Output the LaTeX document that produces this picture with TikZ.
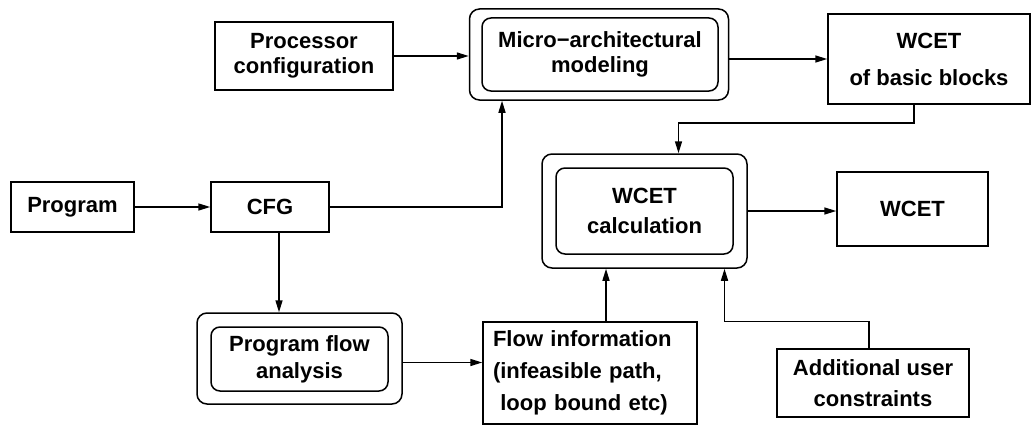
\documentclass[tikz,border=0pt]{standalone}
\usepackage{fontspec}
\setmainfont{Liberation Sans}
\usetikzlibrary{arrows.meta}

\begin{document}
\begin{tikzpicture}[x=1pt,y=-1pt,
  box/.style={shape=rectangle,draw,line width=1.5pt,inner sep=0pt,align=center,
    font=\fontsize{22}{25}\selectfont\bfseries},
  outer/.style={shape=rectangle,draw,line width=1.5pt,rounded corners=10pt,inner sep=0pt},
  inner/.style={box,rounded corners=9pt},
  >={Triangle[length=12pt,width=7pt]}]
\useasboundingbox (0,0) rectangle (1032,428);
\node(prog) at (72.5,207)[box,minimum width=123pt,minimum height=50pt]  {Program};
\node(cfg) at (270,207)[box,minimum width=118pt,minimum height=50pt]    {CFG};
\node(proc) at (304,56)[box,minimum width=178pt,minimum height=68pt]    {Processor\\configuration};
\node(micro) at (599,54.5)[outer,minimum width=259pt,minimum height=91pt] {};
\node(microin) at (600,54.5)[inner,minimum width=236pt,minimum height=73pt] {Micro−architectural\\modeling};
\node(wbb) at (929,59)[box,minimum width=202pt,minimum height=90pt]     {WCET\\[12pt]of basic blocks};
\node(calc) at (644.5,211)[outer,minimum width=205pt,minimum height=114pt] {};
\node(calcin) at (644.5,211)[inner,minimum width=177pt,minimum height=86pt] {WCET\\[5pt]calculation};
\node(wcet) at (912.5,209)[box,minimum width=151pt,minimum height=74pt] {WCET};
\node(pfa) at (299.5,358.5)[outer,minimum width=205pt,minimum height=91pt] {};
\node(pfain) at (299.5,359)[inner,minimum width=177pt,minimum height=64pt] {Program flow\\[2pt]analysis};
\node(flow) at (590,373)[box,minimum width=214pt,minimum height=102pt,
  text width=194pt,align=left] {Flow information\\[7pt](infeasible path,\\[7pt]\ loop bound etc)};
\node(add) at (873,383)[box,minimum width=192pt,minimum height=68pt]    {Additional user\\[6pt]constraints};
\path [->,line width=1.5pt]
  (prog)                      edge   (cfg)
  (proc.east)                 edge   (proc.east -| micro.west)
  (micro.east |- wbb)         edge   (wbb.west)
  ([xshift=9pt]cfg.south)     edge   ([xshift=9pt]cfg.south |- pfa.north)
  ([yshift=-4pt]pfa.east)     edge   ([yshift=-4pt]pfa.east -| flow.west)
  (calc.east)                 edge   (calc.east -| wcet.west)
  ([xshift=16pt]flow.north)   edge   ([xshift=16pt]flow.north |- calc.south);
\draw [->,line width=1.5pt] (cfg.east) -| ([xshift=-97pt]micro.south);
\draw [->,line width=1.5pt] ([xshift=-15pt]wbb.south) -- ++(0,18) -| ([xshift=34pt]calc.north);
\draw [->,line width=1.5pt] ([xshift=-4pt]add.north) -- ++(0,-27) -| ([xshift=80pt]calc.south);
\end{tikzpicture}
\end{document}
